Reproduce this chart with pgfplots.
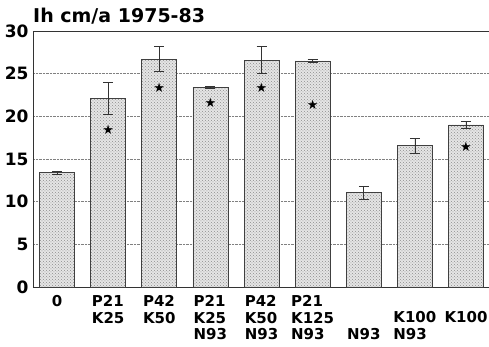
\documentclass[border=0pt]{standalone}
\usepackage{pgfplots}
\pgfplotsset{compat=1.18}
\usetikzlibrary{patterns}
\usepackage{fontspec}
\setmainfont{DejaVu Sans}
\newfontfamily\dejavu{DejaVu Sans}
\newcommand{\el}{\vphantom{P}}
\begin{document}
\begin{tikzpicture}[x=1pt,y=1pt]
\begin{axis}[
  scale only axis,
  width=456pt, height=256pt,
  xmin=-0.47, xmax=8.45,
  ymin=0, ymax=30,
  ytick={0,5,...,30},
  xtick={0,...,8},
  xticklabels={0, P21\\K25, P42\\K50, P21\\K25\\N93, P42\\K50\\N93, P21\\K125\\N93, \el\\\el\\N93, \el\\K100\\N93, \el\\K100},
  xticklabel style={align=left, anchor=north, font=\bfseries\fontsize{15}{16.5}\selectfont, yshift=-5pt},
  yticklabel style={font=\bfseries\fontsize{17}{17}\selectfont, xshift=-1pt},
  /pgf/number format/assume math mode=true,
  major tick length=0pt,
  ymajorgrids,
  grid style={densely dotted, black!50, line width=0.6pt},
  axis line style={black!80, line width=0.9pt},
  clip=false,
]
\addplot[ybar, bar width=35pt, draw=black!75, line width=0.7pt,
  fill=black!10, postaction={pattern=crosshatch dots, pattern color=black!45},
  error bars/.cd, y dir=both, y explicit,
  error bar style={black!80, line width=0.7pt},
  error mark options={rotate=90, mark size=5pt, black!80, line width=0.7pt}]
coordinates {
(0,13.4) +- (0,0.2)
(1,22.1) +- (0,1.9)
(2,26.7) +- (0,1.45)
(3,23.4) +- (0,0.15)
(4,26.6) +- (0,1.6)
(5,26.5) +- (0,0.2)
(6,11.05) +- (0,0.75)
(7,16.55) +- (0,0.9)
(8,19.0) +- (0,0.45)
};
\addplot[only marks, mark=text, text mark={\dejavu\fontsize{13}{13}\selectfont ★}, black]
coordinates {
(1,18.4) (2,23.3) (3,21.6) (4,23.3) (5,21.3) (8,16.4)
};
\node[anchor=base west, inner sep=0pt, yshift=8pt, font=\bfseries\fontsize{19}{19}\selectfont] at (axis cs:-0.47,30) {Ih cm/a 1975-83};
\end{axis}
\pgfresetboundingbox
\path[use as bounding box] ([xshift=-33pt,yshift=-60pt]current axis.south west) rectangle ([yshift=31pt]current axis.north east);
\end{tikzpicture}
\end{document}
